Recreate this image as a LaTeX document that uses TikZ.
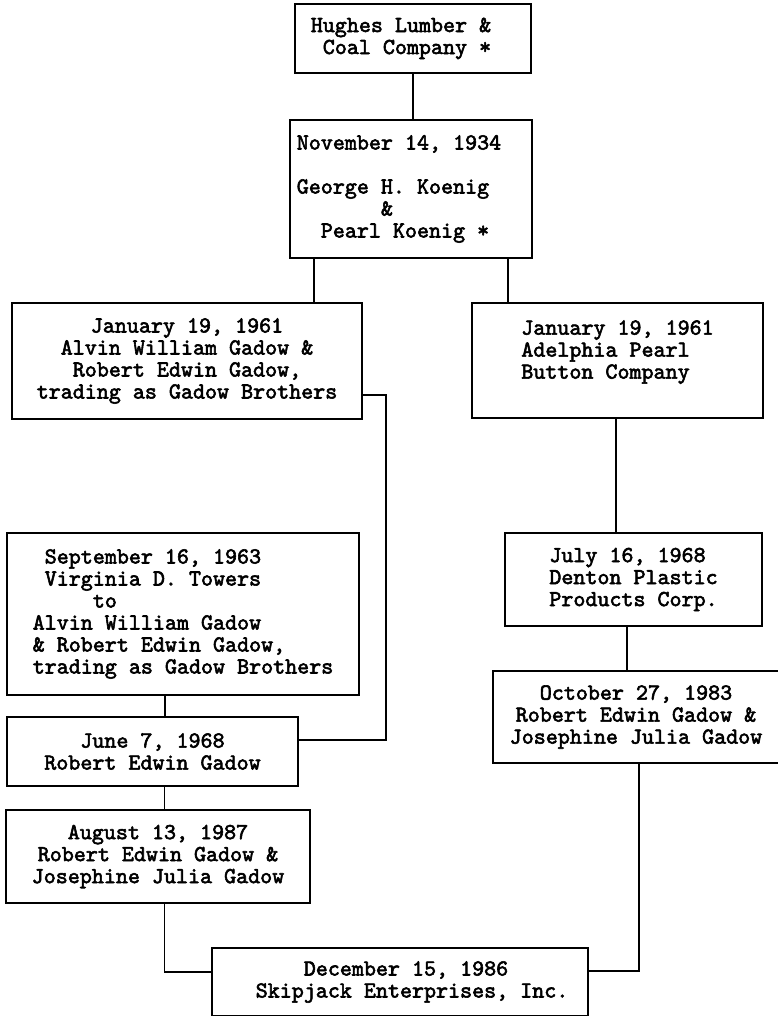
\documentclass[tikz,border=0pt]{standalone}
\usepackage{fontspec}
\usepackage{tikz}
\usetikzlibrary{positioning}
\newfontfamily\deedfont[FakeBold=2.5]{lmmono10-regular.otf}
\newcommand{\pad}[1]{\hphantom{#1}}

\begin{document}
\begin{tikzpicture}[
      x=1pt,y=-1pt,
      deed/.style={rectangle,draw=black,line width=1.5pt,inner sep=0pt,font=\deedfont\fontsize{22.9}{22}\selectfont},
      link/.style={line width=1.5pt}
    ]
    \useasboundingbox (0,0) rectangle (778,1016);
    \node[deed,minimum width=236,minimum height=69,align=left] (hughes) at (413,38.5) {Hughes Lumber \&\pad{xx}\\\pad{x}Coal Company *};
    \node[deed,minimum width=242,minimum height=138,align=left] (koenig) at (411,189) {November 14, 1934\pad{xx}\\\mbox{}\\George H. Koenig\\\pad{xxxxxxx}\&\\\pad{xx}Pearl Koenig *};
    \node[deed,minimum width=350,minimum height=116,align=center] (alvin) at (187,361) {January 19, 1961\\Alvin William Gadow \&\\Robert Edwin Gadow,\\trading as Gadow Brothers};
    \node[deed,minimum width=291,minimum height=115,align=left] (adelphia) at (617.5,360.5) {January 19, 1961\\Adelphia Pearl\\Button Company\\\mbox{}};
    \node[deed,minimum width=352,minimum height=162,align=left] (towers) at (183,614) {\pad{x}September 16, 1963\\\pad{x}Virginia D. Towers\\\pad{xxxxx}to\\Alvin William Gadow\\\& Robert Edwin Gadow,\\trading as Gadow Brothers};
    \node[deed,minimum width=291,minimum height=69,align=center] (june) at (152.5,751.5) {June 7, 1968\\Robert Edwin Gadow};
    \node[deed,minimum width=304,minimum height=93,align=center] (august) at (158,856.5) {August 13, 1987\\Robert Edwin Gadow \&\\Josephine Julia Gadow};
    \node[deed,minimum width=376,minimum height=68,align=left] (skipjack) at (400,982) {\pad{xxxxxx}December 15, 1986\\\pad{xx}Skipjack Enterprises, Inc.};
    \node[deed,minimum width=257,minimum height=93,align=left] (denton) at (633.5,579.5) {July 16, 1968\\Denton Plastic\\Products Corp.};
    \node[deed,minimum width=286,minimum height=92,align=center] (october) at (636,717) {October 27, 1983\\Robert Edwin Gadow \&\\Josephine Julia Gadow};
    \draw[link] (hughes.south) -- (hughes.south |- koenig.north);
    \draw[link] ([xshift=-97pt]koenig.south) -- ([xshift=-97pt]koenig.south |- alvin.north);
    \draw[link] ([xshift=97pt]koenig.south) -- ([xshift=97pt]koenig.south |- adelphia.north);
    \draw[link] ([yshift=-34pt]alvin.east) -- ++(23pt,0) |- ([yshift=11.5pt]june.east);
    \draw[link] ([xshift=-18pt]towers.south) -- ([xshift=-18pt]towers.south |- june.north);
    \draw[link] ([xshift=12pt]june.south) -- ([xshift=12pt]june.south |- august.north);
    \draw[link] ([xshift=6.5pt]august.south) |- ([yshift=10pt]skipjack.west);
    \draw[link] ([xshift=-1.5pt]adelphia.south) -- ([xshift=-1.5pt]adelphia.south |- denton.north);
    \draw[link] ([xshift=-6.5pt]denton.south) -- ([xshift=-6.5pt]denton.south |- october.north);
    \draw[link] ([xshift=3pt]october.south) |- ([yshift=11pt]skipjack.east);
  \end{tikzpicture}
\end{document}
